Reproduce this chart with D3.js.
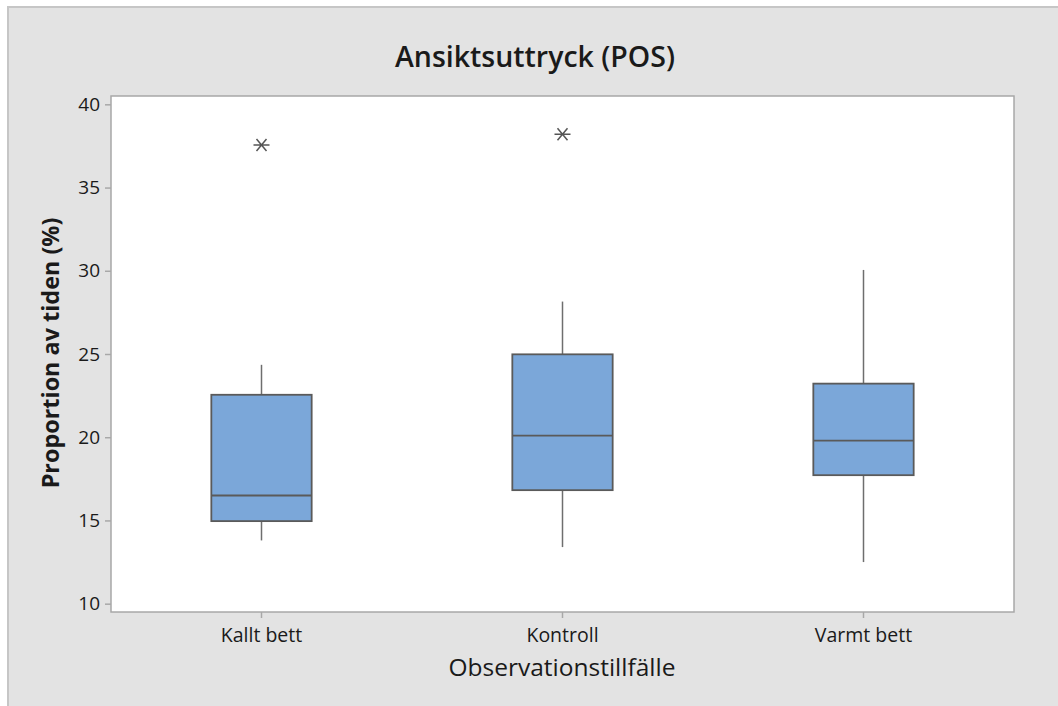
<!DOCTYPE html>
<html><head><meta charset="utf-8">
<script src="https://cdn.jsdelivr.net/npm/d3@7"></script>
<style>body{margin:0;background:#fff;} svg{display:block;}</style>
</head><body>
<svg id="chart" width="1058" height="706"></svg>
<script>
const categories = ["Kallt bett", "Kontroll", "Varmt bett"];
const whiskerLow  = [13.8, 13.4, 12.5];
const q1          = [14.96, 16.82, 17.72];
const median      = [16.5, 20.1, 19.8];
const q3          = [22.55, 24.98, 23.22];
const whiskerHigh = [24.35, 28.15, 30.05];
const outliers    = [[37.55], [38.2], []];
const yTicks      = [10, 15, 20, 25, 30, 35, 40];
const title = "Ansiktsuttryck (POS)";
const xTitle = "Observationstillfälle";
const yTitle = "Proportion av tiden (%)";

const svg = d3.select("#chart");
const font = "'Open Sans', 'Noto Sans', sans-serif";
const L = 111, R = 1014, T = 96, B = 612;

// outer panel
svg.append("rect").attr("x", 8).attr("y", 7).attr("width", 1060).attr("height", 710)
  .attr("fill", "#e3e3e3").attr("stroke", "#c6c6c6").attr("stroke-width", 2);
svg.append("rect").attr("x", L).attr("y", T).attr("width", R - L).attr("height", B - T)
  .attr("fill", "#ffffff").attr("stroke", "#a8a8a8").attr("stroke-width", 1.5);

const x = d3.scaleBand().domain(categories).range([L, R]).padding(0);
const y = d3.scaleLinear().domain([9.5, 40.5]).range([B, T]);

// axes
const yAxis = svg.append("g").attr("transform", `translate(${L},0)`)
  .call(d3.axisLeft(y).tickValues(yTicks).tickSize(6).tickPadding(5).tickFormat(d3.format("d")));
yAxis.select(".domain").remove();
yAxis.selectAll("line").attr("stroke", "#a8a8a8").attr("stroke-width", 1.5);
yAxis.selectAll("text").attr("font-family", font).attr("font-size", 19).attr("fill", "#1a1a1a");

const xAxis = svg.append("g").attr("transform", `translate(0,${B})`)
  .call(d3.axisBottom(x).tickSize(6).tickPadding(10));
xAxis.select(".domain").remove();
xAxis.selectAll("line").attr("stroke", "#a8a8a8").attr("stroke-width", 1.5);
xAxis.selectAll("text").attr("font-family", font).attr("font-size", 19.5).attr("fill", "#1a1a1a");

// boxes
const bw = x.bandwidth() / 3;
const data = categories.map((c, i) => ({c, lo: whiskerLow[i], q1: q1[i], med: median[i], q3: q3[i], hi: whiskerHigh[i], out: outliers[i]}));
const g = svg.append("g").selectAll("g").data(data).join("g")
  .attr("transform", d => `translate(${x(d.c) + x.bandwidth() / 2},0)`);
g.append("line").attr("x1", 0).attr("x2", 0).attr("y1", d => y(d.hi)).attr("y2", d => y(d.q3))
  .attr("stroke", "#6e6e6e").attr("stroke-width", 1.5);
g.append("line").attr("x1", 0).attr("x2", 0).attr("y1", d => y(d.q1)).attr("y2", d => y(d.lo))
  .attr("stroke", "#6e6e6e").attr("stroke-width", 1.5);
g.append("rect").attr("x", -bw / 2).attr("width", bw)
  .attr("y", d => y(d.q3)).attr("height", d => y(d.q1) - y(d.q3))
  .attr("fill", "#7ba7d9").attr("stroke", "#5a5a5a").attr("stroke-width", 1.8);
g.append("line").attr("x1", -bw / 2).attr("x2", bw / 2).attr("y1", d => y(d.med)).attr("y2", d => y(d.med))
  .attr("stroke", "#5a5a5a").attr("stroke-width", 1.8);
g.selectAll("path.out").data(d => d.out).join("path").attr("class", "out")
  .attr("transform", v => `translate(0,${y(v)})`)
  .attr("d", "M-8,0H8M-5,-6L5,6M-5,6L5,-6")
  .attr("stroke", "#555").attr("stroke-width", 1.5).attr("fill", "none");

// titles
svg.append("text").attr("x", 535).attr("y", 67).attr("text-anchor", "middle")
  .attr("font-family", font).attr("font-weight", 600).attr("font-size", 28.5).attr("fill", "#1a1a1a").text(title);
svg.append("text").attr("x", 562).attr("y", 676).attr("text-anchor", "middle")
  .attr("font-family", font).attr("font-size", 24.5).attr("fill", "#1a1a1a").text(xTitle);
svg.append("text").attr("transform", "translate(59,353) rotate(-90)").attr("text-anchor", "middle")
  .attr("font-family", font).attr("font-weight", 700).attr("font-size", 23.4).attr("fill", "#1a1a1a").text(yTitle);
</script>
</body></html>
